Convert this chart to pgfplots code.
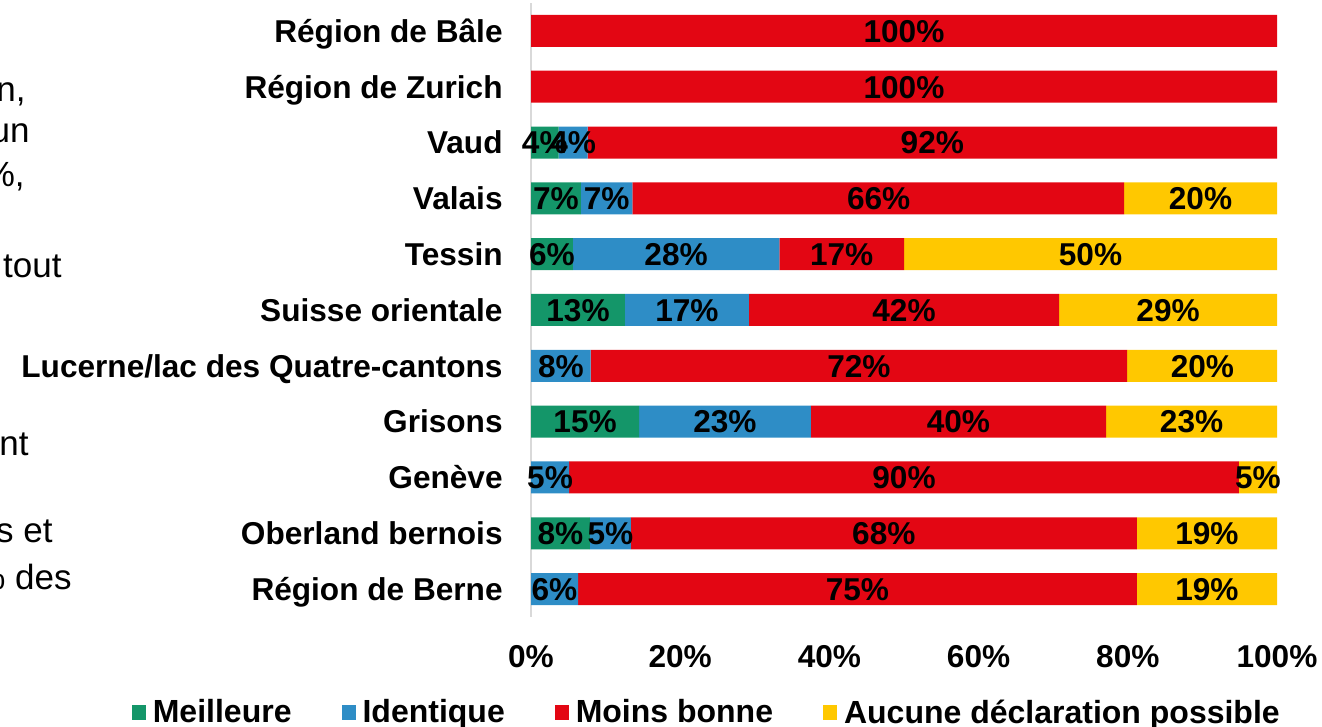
\documentclass[border=0pt]{standalone}
\usepackage{pgfplots}
\pgfplotsset{compat=1.18}
\usepackage{pgfplotstable}
\usepackage{fontspec}
\setmainfont{Liberation Sans}
\definecolor{cgreen}{RGB}{20,150,105}
\definecolor{cblue}{RGB}{46,141,198}
\definecolor{cred}{RGB}{227,6,19}
\definecolor{cyellow}{RGB}{255,200,0}

\pgfplotstableread{
y g b r a
0 0 6.3 74.9 18.8
1 7.9 5.5 67.8 18.8
2 0 5.1 89.8 5.1
3 14.5 23.0 39.6 22.9
4 0 8.0 71.9 20.1
5 12.6 16.6 41.6 29.2
6 5.6 27.7 16.7 50.0
7 6.7 6.9 65.9 20.5
8 3.7 3.9 92.4 0
9 0 0 100 0
10 0 0 100 0
}\data

\pgfplotstableread{
x y lab
3.15 0 6
43.75 0 75
90.6 0 19
3.95 1 8
10.65 1 5
47.3 1 68
90.6 1 19
2.55 2 5
50.0 2 90
97.45 2 5
7.25 3 15
26.0 3 23
57.3 3 40
88.55 3 23
4.0 4 8
43.95 4 72
90.0 4 20
6.3 5 13
20.9 5 17
50.0 5 42
85.4 5 29
2.8 6 6
19.45 6 28
41.65 6 17
75.0 6 50
3.35 7 7
10.15 7 7
46.6 7 66
89.75 7 20
1.85 8 4
5.65 8 4
53.8 8 92
50 9 100
50 10 100
}\labels

\newcommand{\bigfont}{\fontsize{15.8}{19}\selectfont}

\begin{document}
\begin{tikzpicture}
\useasboundingbox (0pt,0pt) rectangle (661pt,363.5pt);
% cut-off text fragments on the left
\begin{scope}[every node/.style={anchor=base east, inner sep=0pt, font=\fontsize{17.5}{20}\selectfont}]
\node at (13pt,312.5pt) {n,};
\node at (15pt,292pt) {un};
\node at (12.5pt,270pt) {\%,};
\node at (31pt,224.5pt) {tout};
\node at (14.5pt,135.5pt) {nt};
\node at (26.5pt,92pt) {s et};
\node at (36pt,68.5pt) {\% des};
\end{scope}

\begin{axis}[
  at={(265.5pt,55pt)}, anchor=south west,
  width=373pt, height=307pt, scale only axis,
  xbar stacked, bar width=16pt,
  xmin=0, xmax=100, ymin=-0.5, ymax=10.5,
  ytick={0,...,10},
  yticklabels={Région de Berne, Oberland bernois, Genève, Grisons, Lucerne/lac des Quatre-cantons, Suisse orientale, Tessin, Valais, Vaud, Région de Zurich, Région de Bâle},
  xtick={0,20,...,100},
  xticklabels={0\%,20\%,40\%,60\%,80\%,100\%},
  /pgf/number format/assume math mode=true,
  axis lines*=left,
  x axis line style={draw=none},
  y axis line style={draw=black!15, line width=1pt},
  major tick length=0pt,
  tick style={draw=none},
  ticklabel style={font=\bfseries\bigfont, inner sep=0pt},
  yticklabel style={anchor=base east, xshift=-14pt, yshift=-5.65pt},
  xticklabel style={anchor=base, yshift=-25.5pt},
  legend image code/.code={\fill[#1] (0pt,-3.75pt) rectangle (7pt,3.75pt);},
  legend style={draw=none, fill=none, legend columns=4,
    at={(0.237,-0.156)}, anchor=center,
    font=\bfseries\fontsize{16}{19}\selectfont,
    /tikz/every odd column/.append style={column sep=1.5pt},
    /tikz/every even column/.append style={column sep=23pt}},
]
\addplot[fill=cgreen, draw=none] table[x=g, y=y] {\data};
\addlegendentry{Meilleure}
\addplot[fill=cblue, draw=none] table[x=b, y=y] {\data};
\addlegendentry{Identique}
\addplot[fill=cred, draw=none] table[x=r, y=y] {\data};
\addlegendentry{Moins bonne}
\addplot[fill=cyellow, draw=none] table[x=a, y=y] {\data};
\addlegendentry{Aucune déclaration possible}
\end{axis}

\begin{axis}[
  at={(265.5pt,55pt)}, anchor=south west,
  width=373pt, height=307pt, scale only axis,
  xmin=0, xmax=100, ymin=-0.5, ymax=10.5,
  hide axis, clip=false,
]
\addplot[draw=none, mark=none, nodes near coords={\pgfplotspointmeta\%},
  point meta=explicit symbolic,
  every node near coord/.style={anchor=base, inner sep=0pt, yshift=-5.65pt,
    font=\bfseries\bigfont, text=black}]
  table[x=x, y=y, meta=lab] {\labels};
\end{axis}
\end{tikzpicture}
\end{document}
